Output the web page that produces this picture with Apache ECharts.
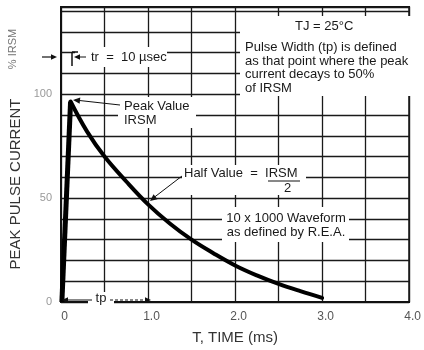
<!DOCTYPE html>
<html><head><meta charset="utf-8">
<script src="https://cdn.jsdelivr.net/npm/echarts@6/dist/echarts.min.js"></script>
<style>html,body{margin:0;padding:0;background:#fff}#c{width:424px;height:350px}</style>
</head><body><div id="c"></div>
<script>
// Data
const riseTime = [0.01, 0.11];
const riseCurrent = [0, 96.5];
const decayTime = [0.11, 0.3, 0.5, 0.75, 1.0, 1.25, 1.5, 1.75, 2.0, 2.25, 2.5, 2.75, 3.0];
const decayCurrent = [96.5, 82, 70, 58, 47, 37.8, 30, 23.5, 17.6, 12.8, 8.7, 5.2, 2];
const xTickLabels = {0: '0', 1: '1.0', 2: '2.0', 3: '3.0', 4: '4.0'};
const yTickLabels = {0: '0', 50: '50', 100: '100'};

const FONT = 'Liberation Sans, Arial, sans-serif';
const chart = echarts.init(document.getElementById('c'), null, {renderer: 'canvas'});

function arrowHead(x1, y1, x2, y2, size) {
  const a = Math.atan2(y2 - y1, x2 - x1);
  const s = size || 6, w = s * 0.45;
  const bx = x2 - s * Math.cos(a), by = y2 - s * Math.sin(a);
  return {type: 'polygon', z: 110, shape: {points: [[x2, y2],
    [bx - w * Math.sin(a), by + w * Math.cos(a)], [bx + w * Math.sin(a), by - w * Math.cos(a)]]},
    style: {fill: '#111'}};
}
function line(x1, y1, x2, y2, w, dash) {
  return {type: 'line', z: 110, shape: {x1, y1, x2, y2}, style: {stroke: '#111', lineWidth: w || 1, lineDash: dash || null}};
}
function box(x, y, w, h) {
  return {type: 'rect', z: 100, shape: {x, y, width: w, height: h}, style: {fill: '#fff'}};
}
function txt(x, y, t, opts) {
  return {type: 'text', z: 120, x, y, style: Object.assign({text: t, fill: '#1a1a1a', font: '13px ' + FONT, textVerticalAlign: 'middle'}, opts || {})};
}

const graphics = [
  // white label backgrounds
  box(240, 16, 174, 80),
  box(75, 47, 92, 20),
  box(118, 97, 78, 31),
  box(182, 165, 124, 30),
  box(222, 207, 127, 35),
  box(88, 292, 26, 12),
  // texts
  txt(295, 26, 'TJ = 25°C'),
  {type: 'text', z: 120, x: 245, y: 41, style: {text: 'Pulse Width (tp) is defined\nas that point where the peak\ncurrent decays to 50%\nof IRSM',
    fill: '#1a1a1a', font: '13px ' + FONT, lineHeight: 13.5, textVerticalAlign: 'top'}},
  txt(91, 57, 'tr  =  10 µsec'),
  txt(124, 106, 'Peak Value'),
  txt(124, 120, 'IRSM'),
  txt(184, 173, 'Half Value  =  IRSM'),
  txt(284, 188, '2'),
  txt(286, 218, '10 x 1000 Waveform', {textAlign: 'center'}),
  txt(286, 232, 'as defined by R.E.A.', {textAlign: 'center'}),
  txt(101, 298, 'tp', {textAlign: 'center'}),
  {type: 'text', z: 120, x: 13, y: 49, rotation: Math.PI / 2,
   style: {text: '% IRSM', fill: '#777', font: '11px ' + FONT, textAlign: 'center', textVerticalAlign: 'middle'}},
  {type: 'text', z: 120, x: 16, y: 184, rotation: Math.PI / 2,
   style: {text: 'PEAK PULSE CURRENT', fill: '#333', font: '15px ' + FONT, textAlign: 'center', textVerticalAlign: 'middle'}},
  // fraction bar
  line(268, 181, 300, 181, 1),
  // peak value arrow
  line(120, 105, 75, 100, 1), arrowHead(120, 105, 73, 100, 7),
  // half value arrow
  line(182, 176, 152, 199, 1), arrowHead(182, 176, 150, 201, 7),
  // tr bracket and arrows
  line(72, 52, 78, 52, 1.5), line(72, 52, 72, 66, 1.5),
  line(86, 57, 76, 57, 1), arrowHead(86, 57, 74, 57, 6),
  line(42, 57, 54, 57, 1.2), arrowHead(42, 57, 57, 57, 6),
  // tp arrow
  line(64, 300, 92, 300, 1), line(110, 300, 149, 300, 1, [3, 2]),
  arrowHead(90, 300, 62, 300, 6), arrowHead(120, 300, 151, 300, 6)
];

chart.setOption({
  animation: false,
  backgroundColor: '#fff',
  grid: {left: 61, right: 8, top: 7, bottom: 48, show: true, borderColor: '#111', borderWidth: 1.8, backgroundColor: 'transparent'},
  xAxis: {
    type: 'value', min: 0, max: 4, interval: 0.5,
    name: 'T, TIME (ms)', nameLocation: 'middle', nameGap: 28,
    nameTextStyle: {fontFamily: FONT, fontSize: 15, color: '#333'},
    axisLine: {show: true, lineStyle: {color: '#111', width: 1.8}},
    axisTick: {show: false},
    splitLine: {show: true, lineStyle: {color: '#1a1a1a', width: 1.3}},
    axisLabel: {margin: 9, fontFamily: FONT, fontSize: 12, color: '#555', padding: [0, 0, 0, 7],
      formatter: v => (Math.abs(v - Math.round(v)) < 1e-6 && xTickLabels[Math.round(v)] !== undefined) ? xTickLabels[Math.round(v)] : ''}
  },
  yAxis: {
    type: 'value', min: 0, max: 142, interval: 10,
    axisLine: {show: true, lineStyle: {color: '#111', width: 2}},
    axisTick: {show: false},
    splitLine: {show: true, lineStyle: {color: '#1a1a1a', width: 1.3}},
    axisLabel: {margin: 9, fontFamily: FONT, fontSize: 11, color: '#999',
      formatter: v => yTickLabels[v] !== undefined ? yTickLabels[v] : ''}
  },
  graphic: graphics,
  series: [
    {type: 'line', data: riseTime.map((t, i) => [t, riseCurrent[i]]), showSymbol: false,
     lineStyle: {color: '#000', width: 5}, z: 5},
    {type: 'line', data: decayTime.map((t, i) => [t, decayCurrent[i]]), showSymbol: false,
     smooth: 0.4, lineStyle: {color: '#000', width: 4, cap: 'round'}, z: 5}
  ]
});
</script></body></html>
